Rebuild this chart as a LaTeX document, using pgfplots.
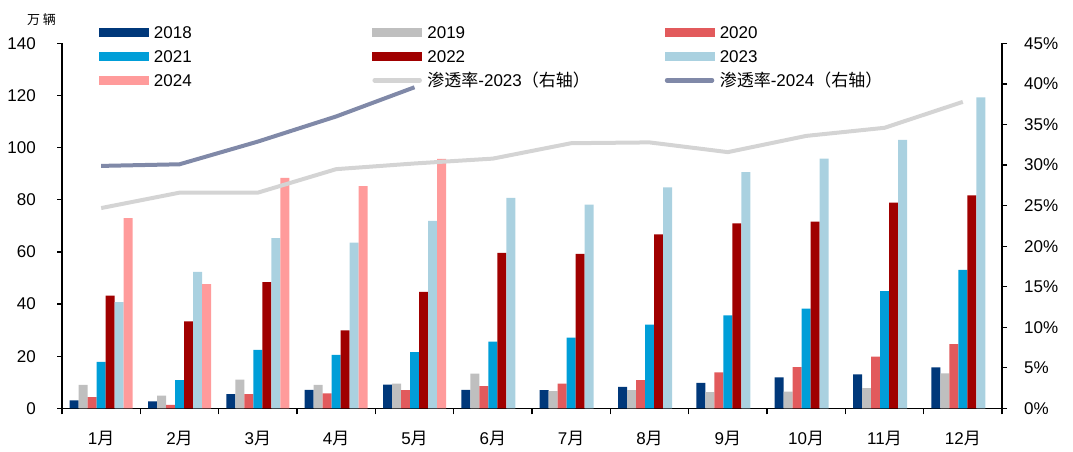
\documentclass[border=0pt]{standalone}
\usepackage{fontspec}
\setmainfont{Liberation Sans}
\newfontfamily\cjk{Noto Sans CJK SC}
\usepackage{pgfplots}
\pgfplotsset{compat=1.18}

\definecolor{c18}{HTML}{00387A}
\definecolor{c19}{HTML}{BFBFBF}
\definecolor{c20}{HTML}{E25A5C}
\definecolor{c21}{HTML}{009ED8}
\definecolor{c22}{HTML}{A00000}
\definecolor{c23}{HTML}{AAD1E0}
\definecolor{c24}{HTML}{FF9B9B}
\definecolor{l23}{HTML}{D4D4D4}
\definecolor{l24}{HTML}{8089A8}

\newcommand{\fs}{\fontsize{17bp}{20bp}\selectfont}

\pgfplotsset{
  barsw/.style={legend image code/.code={%
    \fill[##1,draw=none] (0bp,-3.6bp) rectangle (50bp,5.4bp);
    \path (55bp,0bp);}},
  linesw/.style={legend image code/.code={%
    \draw[#1,line width=4.5bp,line cap=round] (2.5bp,0.9bp) -- (47.5bp,0.9bp);
    \path (0bp,0bp) (55bp,0bp);}},
  frame/.style={
    scale only axis, width=940bp, height=364.8bp,
    xmin=-0.5, xmax=11.5,
    /pgf/number format/assume math mode=true,
    tick label style={font=\fs, black},
    axis line style={black, line width=1.2bp},
    tick style={black, line width=1.2bp},
    tick align=outside,
  },
}

\begin{document}
\begin{tikzpicture}
\begin{axis}[
  frame,
  clip=false,
  ymin=0, ymax=140,
  axis x line*=bottom, axis y line*=left,
  xtick={0,...,11},
  xticklabels={1{\cjk 月},2{\cjk 月},3{\cjk 月},4{\cjk 月},5{\cjk 月},6{\cjk 月},
               7{\cjk 月},8{\cjk 月},9{\cjk 月},10{\cjk 月},11{\cjk 月},12{\cjk 月}},
  every major x tick/.append style={draw=none},
  minor xtick={-0.5,0.5,...,11.5},
  minor tick length=6bp,
  xticklabel style={anchor=base, inner sep=0pt, yshift=-31.5bp},
  ytick={0,20,...,140},
  major tick length=5bp,
  yticklabel style={anchor=east, inner sep=0pt, xshift=-21bp},
  bar width=9bp,
  legend columns=3,
  legend cell align=left,
  legend style={draw=none, fill=none, inner sep=0pt, outer sep=0pt,
    at={(0.03936,1.0513)}, anchor=north west, font=\fs,
    nodes={inner sep=0pt, text height=14bp, text depth=4bp},
    row sep=5.7bp, column sep=0pt},
]
% monthly NEV sales, 10k vehicles
\addplot[ybar, fill=c18, draw=none, bar shift=-27bp, barsw] coordinates {
  (0,3.0) (1,2.7) (2,5.4) (3,7.1) (4,9.1) (5,7.1) (6,7.0) (7,8.2) (8,9.8) (9,11.9) (10,13.0) (11,15.7)};
\addplot[ybar, fill=c19, draw=none, bar shift=-18bp, barsw] coordinates {
  (0,9.0) (1,4.9) (2,11.0) (3,9.0) (4,9.5) (5,13.3) (6,6.6) (7,7.0) (8,6.2) (9,6.4) (10,7.7) (11,13.4)};
\addplot[ybar, fill=c20, draw=none, bar shift=-9bp, barsw] coordinates {
  (0,4.3) (1,1.3) (2,5.4) (3,5.7) (4,7.0) (5,8.5) (6,9.5) (7,10.8) (8,13.8) (9,15.8) (10,19.8) (11,24.6)};
\addplot[ybar, fill=c21, draw=none, bar shift=0bp, barsw] coordinates {
  (0,17.8) (1,10.8) (2,22.4) (3,20.5) (4,21.6) (5,25.6) (6,27.1) (7,32.1) (8,35.7) (9,38.3) (10,45.0) (11,53.1)};
\addplot[ybar, fill=c22, draw=none, bar shift=9bp, barsw] coordinates {
  (0,43.2) (1,33.4) (2,48.4) (3,29.9) (4,44.7) (5,59.6) (6,59.3) (7,66.7) (8,71.0) (9,71.6) (10,78.9) (11,81.7)};
\addplot[ybar, fill=c23, draw=none, bar shift=18bp, barsw] coordinates {
  (0,40.7) (1,52.4) (2,65.3) (3,63.6) (4,71.9) (5,80.8) (6,78.2) (7,84.8) (8,90.6) (9,95.8) (10,103.0) (11,119.3)};
\addplot[ybar, fill=c24, draw=none, bar shift=27bp, barsw] coordinates {
  (0,73.0) (1,47.7) (2,88.4) (3,85.3) (4,95.7)};
\addlegendimage{linesw=l23}
\addlegendimage{linesw=l24}
\legend{\makebox[218bp][l]{2018},\makebox[237bp][l]{2019},2020,
        \makebox[218bp][l]{2021},\makebox[237bp][l]{2022},2023,
        \makebox[218bp][l]{2024},
        \makebox[237bp][l]{{\cjk 渗透率}-2023{\cjk （右轴）}},
        {\cjk 渗透率}-2024{\cjk （右轴）}}
\node[font=\cjk\fontsize{13bp}{15bp}\selectfont, inner sep=0pt]
  at (rel axis cs:-0.0218,1.0644) {万\hspace{3bp}辆};
\end{axis}

\begin{axis}[
  frame,
  ymin=0, ymax=45,
  axis x line=none, axis y line*=right,
  ytick={0,5,...,45},
  major tick length=5bp,
  yticklabel={\pgfmathprintnumber{\tick}\%},
  yticklabel style={anchor=west, inner sep=0pt, xshift=17bp},
]
% penetration rate, percent
\addplot[l23, line width=4bp, line join=round] coordinates {
  (0,24.7) (1,26.6) (2,26.6) (3,29.5) (4,30.2) (5,30.8) (6,32.7) (7,32.8) (8,31.6) (9,33.6) (10,34.6) (11,37.8)};
\addplot[l24, line width=4bp, line join=round] coordinates {
  (0,29.9) (1,30.1) (2,32.9) (3,36.0) (4,39.6)};
\end{axis}

\pgfresetboundingbox
\path (-62bp,-43.7bp) rectangle (1011bp,408.3bp);
\end{tikzpicture}
\end{document}
